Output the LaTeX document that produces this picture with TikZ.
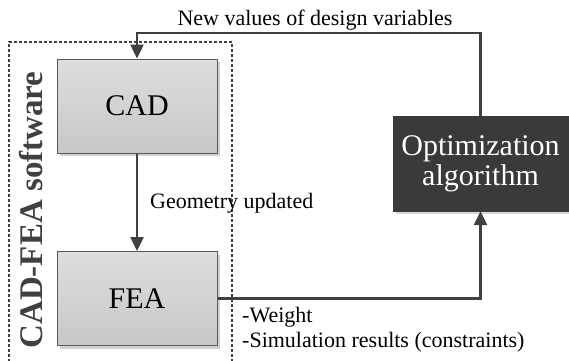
\documentclass[tikz,border=0pt]{standalone}
\usepackage{fontspec}
\setmainfont{Liberation Serif}
\usetikzlibrary{arrows.meta,shadows,calc}

\definecolor{linegray}{HTML}{404040}
\definecolor{boxedge}{HTML}{5A5A5A}
\definecolor{darkbox}{HTML}{3A3A3A}

\tikzset{
  procbox/.style={draw=boxedge, line width=1pt, top color=black!13, bottom color=black!22,
    minimum width=160pt, minimum height=94pt, inner sep=0pt,
    font=\fontsize{30}{34}\selectfont,
    drop shadow={shadow xshift=3pt, shadow yshift=-3pt, fill=black!18, opacity=1}},
  optbox/.style={fill=darkbox, draw=darkbox, text=white,
    minimum width=175pt, minimum height=95pt, inner sep=0pt, align=center,
    font=\fontsize{30}{34}\selectfont,
    drop shadow={shadow xshift=3pt, shadow yshift=-3pt, fill=black!15, opacity=1}},
  flow/.style={draw=linegray, line width=2.4pt, -{Triangle[length=14pt,width=13pt]}},
  lbl/.style={font=\fontsize{22}{25}\selectfont, inner sep=0pt},
  groupframe/.style={draw=linegray, line width=1.8pt, dash pattern=on 3pt off 2pt},
}

\begin{document}
\begin{tikzpicture}[x=1pt, y=-1pt]
  \useasboundingbox (0,0) rectangle (569,360);

  % software frame (open at the bottom edge)
  \draw[groupframe] (9,362) -- (9,42) -- (232,42) -- (232,362);
  \node[rotate=90, font=\bfseries\fontsize{33}{36}\selectfont, text=linegray, inner sep=0pt]
    (sw) at (31,210) {CAD-FEA software};

  % process blocks
  \node[procbox] (cad) at (137,106) {CAD};
  \node[procbox] (fea) at (137,298.5) {FEA};
  \node[optbox] (opt) at (480.5,163.5) {Optimization\\[-4pt]algorithm};

  % connectors
  \coordinate (ytop) at (0,33);
  \draw[flow] (opt.north) |- (ytop -| cad.north) -- (cad.north);
  \draw[flow] (cad.south) -- (fea.north);
  \draw[flow] (fea.east) -| (opt.south);

  % labels
  \node[lbl, anchor=base] (newvals) at (315,25) {New values of design variables};
  \node[lbl, anchor=base west] (geo) at (150,208) {Geometry updated};
  \node[lbl, anchor=base west] (wt) at (242,322) {-Weight};
  \node[lbl, anchor=base west] (sim) at (242,347) {-Simulation results (constraints)};
\end{tikzpicture}
\end{document}
